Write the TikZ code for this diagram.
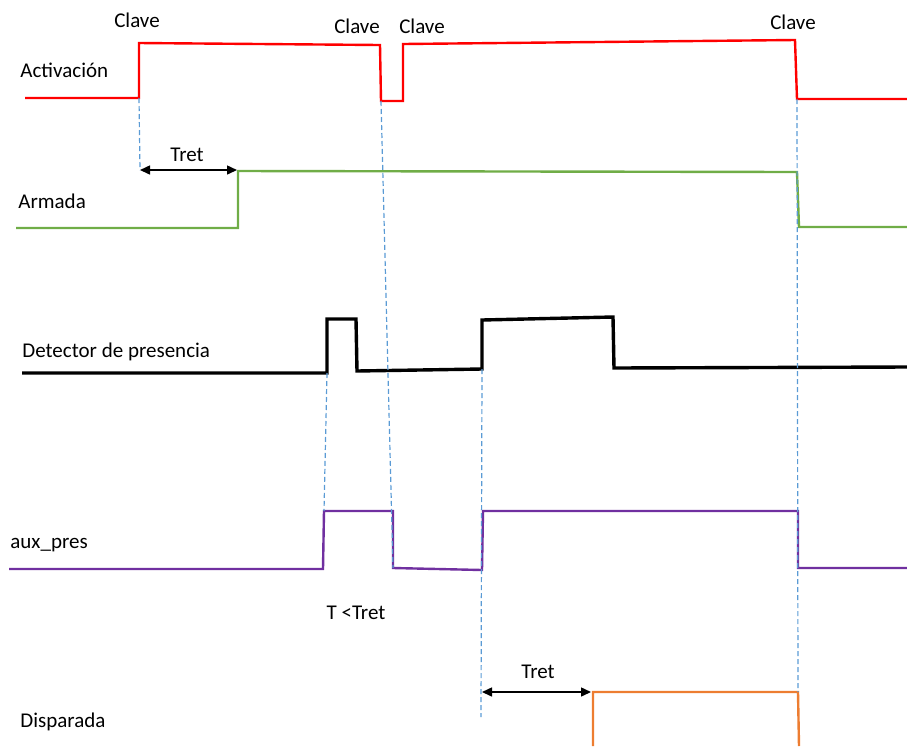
\documentclass[tikz,border=0pt]{standalone}
\usepackage{fontspec}
\setmainfont{Carlito}
\usetikzlibrary{arrows.meta}
\definecolor{armgreen}{HTML}{70AD47}
\definecolor{auxpurple}{HTML}{7030A0}
\definecolor{disorange}{HTML}{ED7D31}
\definecolor{guideblue}{HTML}{5B9BD5}
\begin{document}
\begin{tikzpicture}[x=0.5pt, y=-0.5pt, font=\fontsize{10.5}{12}\selectfont,
    >={Triangle[length=5pt, width=4.5pt]},
    wave/.style={line width=1.2pt, line join=miter},
    guide/.style={dash pattern=on 2.5pt off 1.5pt, line width=0.6pt, guideblue},
    span/.style={<->, line width=0.75pt},
    lab/.style={anchor=west, inner sep=0pt}]
  \useasboundingbox (0,0) rectangle (907,746);

% ---------------- signal names, one per row
  \node[lab] (nact) at (20,70) {Activación};
  \node[lab] (narm) at (18,201) {Armada};
  \node[lab] (ndet) at (22,352) {Detector de presencia};
  \node[lab] (naux) at (10,545) {aux\_pres};
  \node[lab] (ndis) at (20,722) {Disparada};

% ---------------- key events on the activation line
  \node (clave1) at (137,20) {Clave};
  \node (clave2) at (357,26) {Clave};
  \node (clave3) at (422,26) {Clave};
  \node (clave4) at (793,22) {Clave};

% ---------------- the waveforms
  \draw[wave, red] (25,98) -- (139,98) coordinate (act1) -- (139,43) -- (380,45)
    -- (381,101) coordinate (act2) -- (403,101) -- (403,44) -- (795,40)
    -- (797,99) coordinate (act3) -- (907,99);
  \draw[wave, armgreen] (16,228) -- (238,228) -- (238,171) coordinate (arm1)
    -- (797,172) -- (799,227) -- (907,227);
  \draw[wave, line width=1.7pt] (22,373) -- (327,373) coordinate (det1) -- (327,319)
    -- (356,319) -- (357,371) -- (482,369) coordinate (det2) -- (482,320)
    -- (613,317) -- (614,368) -- (907,367);
  \draw[wave, auxpurple] (9,569) -- (323,569) -- (324,511) coordinate (aux1)
    -- (393,511) -- (393,568) coordinate (aux2) -- (482,570) -- (483,511)
    -- (798,511) -- (798,568) -- (907,568);
  \draw[wave, disorange] (593,746) -- (593,692) coordinate (dis1) -- (798,692)
    coordinate (dis2) -- (799,746);

% ---------------- dashed guides from cause to effect
  \coordinate (t1a) at (140,170);
  \coordinate (t1b) at (237,170);
  \coordinate (t2a) at (482,692);
  \coordinate (t2b) at (591,692);
  \coordinate (g2end) at (481,717);
  \draw[guide] (act1) -- (t1a);
  \draw[guide] (act2) -- (aux2);
  \draw[guide] (det1) -- (aux1);
  \draw[guide] (det2) -- (g2end);
  \draw[guide] (act3) -- (dis2);

% ---------------- delays
  \draw[span] (t1a) -- (t1b);
  \node (tret1) at (187,155) {Tret};
  \draw[span] (t2a) -- (t2b);
  \node (tret2) at (538,672) {Tret};
  \node (tshort) at (356,613) {T <Tret};
\end{tikzpicture}
\end{document}
